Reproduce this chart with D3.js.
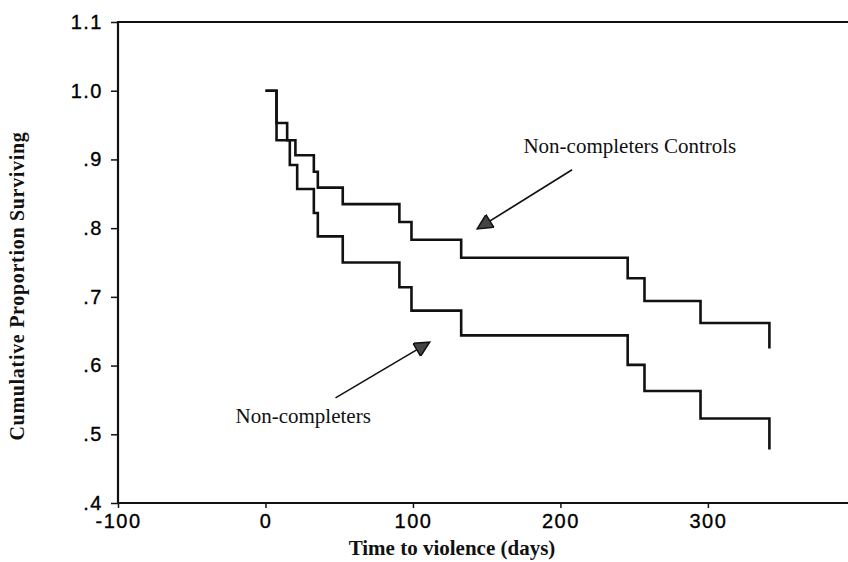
<!DOCTYPE html>
<html>
<head>
<meta charset="utf-8">
<script src="https://cdn.jsdelivr.net/npm/d3@7"></script>
<style>
  html, body { margin: 0; padding: 0; background: #fff; }
  #chart svg { display: block; }
  .title { font-family: "Liberation Serif", "Times New Roman", serif; font-weight: bold; fill: #111; }
  .note { font-family: "Liberation Serif", "Times New Roman", serif; font-size: 21px; fill: #111; }
</style>
</head>
<body>
<div id="chart"></div>
<script>
// Kaplan-Meier steps (time in days, cumulative proportion surviving)
const controlTimes = [0, 7.5, 14.7, 20.3, 32.8, 35.5, 52.4, 90.8, 99, 132.7, 245.6, 257, 295, 341.7];
const controlSurv  = [1.0, 0.953, 0.928, 0.906, 0.882, 0.859, 0.835, 0.809, 0.783, 0.757, 0.727, 0.694, 0.662, 0.625];

const nonCompTimes = [0, 7.5, 16.5, 21.5, 32.8, 35.5, 52.4, 90.8, 99, 132.7, 245.6, 257, 295, 341.7];
const nonCompSurv  = [1.0, 0.928, 0.892, 0.857, 0.822, 0.788, 0.750, 0.714, 0.680, 0.644, 0.601, 0.563, 0.523, 0.478];

const xTicks = [-100, 0, 100, 200, 300];
const yTicks = [0.4, 0.5, 0.6, 0.7, 0.8, 0.9, 1.0, 1.1];

// annotation labels and arrows, in data units: [time, proportion]
const labelText = ["Non-completers Controls", "Non-completers"];
const labelAt   = [[174.9, 0.909], [-20.3, 0.516]];
const arrowFrom = [[207.9, 0.885], [47.5, 0.553]];
const arrowTo   = [[144.4, 0.800], [110.5, 0.633]];

const width = 848, height = 562;
const margin = {top: 22, right: 0, bottom: 59, left: 118};

const svg = d3.select('#chart')
              .append('svg')
              .attr('width', width)
              .attr('height', height);

const x = d3.scaleLinear()
            .domain([-100, 395])
            .range([margin.left, width - margin.right]);

const y = d3.scaleLinear()
            .domain([0.4, 1.1])
            .range([height - margin.bottom, margin.top]);

// no leading zero on the y labels: ".9", "1.0"; plain hyphen on "-100"
const fmtY = v => d3.format('.1f')(v).replace(/^0\./, '.');
const fmtX = v => String(v);

// left axis
const yAxis = svg.append('g')
                 .attr('transform', `translate(${margin.left},0)`)
                 .call(d3.axisLeft(y).tickValues(yTicks).tickFormat(fmtY).tickSize(7).tickPadding(8));

// bottom axis
const xAxis = svg.append('g')
                 .attr('transform', `translate(0,${height - margin.bottom})`)
                 .call(d3.axisBottom(x).tickValues(xTicks).tickFormat(fmtX).tickSize(5).tickPadding(4));

[yAxis, xAxis].forEach(g => {
  g.attr('font-family', '"Liberation Sans", Arial, sans-serif')
   .attr('font-size', 20);
  g.select('.domain').remove();
  g.selectAll('.tick line').attr('stroke', '#111').attr('stroke-width', 1.5);
  g.selectAll('.tick text')
   .attr('fill', '#000')
   .attr('stroke', '#000')
   .attr('stroke-width', 0.35)
   .style('letter-spacing', '1.5px');
});
xAxis.selectAll('.tick text').attr('dy', '0.8em');

// frame lines: left, bottom, top (right side is cut off in the scan)
svg.append('line')
   .attr('x1', x(-100)).attr('x2', x(-100))
   .attr('y1', y(1.1) - 1).attr('y2', y(0.4) + 1)
   .attr('stroke', '#111').attr('stroke-width', 2.2);

svg.append('line')
   .attr('x1', x(-100) - 1).attr('x2', width)
   .attr('y1', y(0.4)).attr('y2', y(0.4))
   .attr('stroke', '#111').attr('stroke-width', 2);

svg.append('line')
   .attr('x1', x(-100) - 1).attr('x2', width)
   .attr('y1', y(1.1)).attr('y2', y(1.1))
   .attr('stroke', '#111').attr('stroke-width', 2.2);

// survival curves
const stepLine = d3.line()
                   .x(d => x(d[0]))
                   .y(d => y(d[1]))
                   .curve(d3.curveStepAfter);

const series = [
  d3.zip(controlTimes, controlSurv),
  d3.zip(nonCompTimes, nonCompSurv)
];

svg.selectAll('.km')
   .data(series)
   .enter()
   .append('path')
   .attr('class', 'km')
   .attr('d', stepLine)
   .attr('fill', 'none')
   .attr('stroke', '#111')
   .attr('stroke-width', 2.6)
   .attr('stroke-linejoin', 'miter');

// arrows with filled heads
svg.append('defs')
   .append('marker')
   .attr('id', 'head')
   .attr('viewBox', '0 0 10 10')
   .attr('refX', 9)
   .attr('refY', 5)
   .attr('markerUnits', 'userSpaceOnUse')
   .attr('markerWidth', 18)
   .attr('markerHeight', 15)
   .attr('orient', 'auto')
   .append('path')
   .attr('d', 'M0,0 L10,5 L0,10 Z')
   .attr('fill', '#444')
   .attr('stroke', '#111')
   .attr('stroke-width', 1);

svg.selectAll('.arrow')
   .data(d3.zip(arrowFrom, arrowTo))
   .enter()
   .append('line')
   .attr('class', 'arrow')
   .attr('x1', d => x(d[0][0]))
   .attr('y1', d => y(d[0][1]))
   .attr('x2', d => x(d[1][0]))
   .attr('y2', d => y(d[1][1]))
   .attr('stroke', '#111')
   .attr('stroke-width', 1.6)
   .attr('marker-end', 'url(#head)');

svg.selectAll('.note')
   .data(d3.zip(labelText, labelAt))
   .enter()
   .append('text')
   .attr('class', 'note')
   .attr('x', d => x(d[1][0]))
   .attr('y', d => y(d[1][1]))
   .text(d => d[0]);

// axis titles
svg.append('text')
   .attr('class', 'title')
   .attr('x', 452)
   .attr('y', 555)
   .attr('text-anchor', 'middle')
   .style('font-size', '21px')
   .text('Time to violence (days)');

svg.append('text')
   .attr('class', 'title')
   .attr('transform', 'translate(24,286) rotate(-90)')
   .attr('text-anchor', 'middle')
   .style('font-size', '20px')
   .style('letter-spacing', '0.7px')
   .text('Cumulative Proportion Surviving');
</script>
</body>
</html>
